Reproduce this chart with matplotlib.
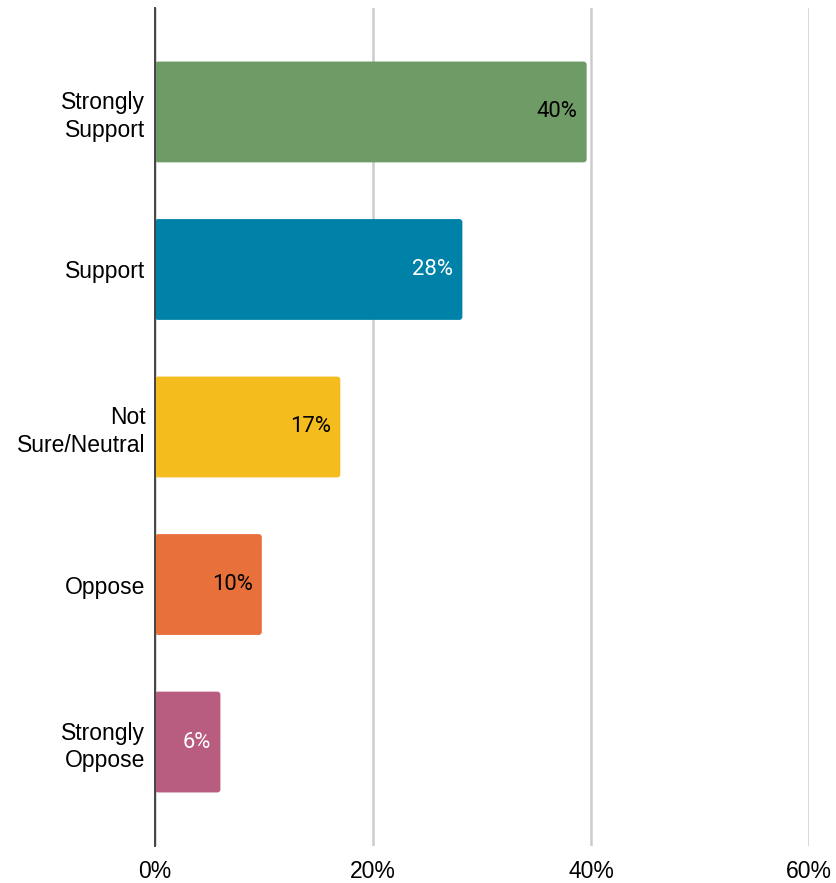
import matplotlib.pyplot as plt
from matplotlib import font_manager
from matplotlib.patches import FancyBboxPatch

# Survey responses
categories = ["Strongly\nSupport", "Support", "Not\nSure/Neutral", "Oppose", "Strongly\nOppose"]
values = [39.6, 28.2, 17.0, 9.8, 6.0]
value_labels = ["40%", "28%", "17%", "10%", "6%"]
colors = ["#6E9B66", "#0081A7", "#F4BC1C", "#E8703B", "#B85C80"]
label_colors = ["black", "white", "black", "black", "white"]
x_ticks = [0, 20, 40, 60]
x_tick_labels = ["0%", "20%", "40%", "60%"]

names = {f.name for f in font_manager.fontManager.ttflist}
tick_font = "Liberation Sans Narrow" if "Liberation Sans Narrow" in names else "Liberation Sans"

fig = plt.figure(figsize=(8.36, 8.83), dpi=100)
ax = fig.add_axes([155 / 836, 1 - 846 / 883, (809 - 155) / 836, (846 - 8) / 883])

y = list(range(len(categories)))
bars = ax.barh(y, values, height=0.64, color=colors, zorder=3)

# swap plain bars for slightly rounded ones
for bar in bars:
    bar.set_visible(False)
    ax.add_patch(FancyBboxPatch((bar.get_x(), bar.get_y()), bar.get_width(), bar.get_height(),
                                boxstyle="round,pad=0,rounding_size=0.28", mutation_aspect=0.07,
                                facecolor=bar.get_facecolor(), edgecolor="none", zorder=3))

for bar, txt, c in zip(bars, value_labels, label_colors):
    ax.annotate(txt, (bar.get_width(), bar.get_y() + bar.get_height() / 2),
                xytext=(-6.5, 0), textcoords="offset points", ha="right", va="center",
                fontsize=15.8, color=c, family="Roboto", zorder=4)

ax.set_xlim(0, 60)
ax.set_ylim(len(categories) - 0.34, -0.66)
ax.set_xticks(x_ticks)
ax.set_xticklabels(x_tick_labels, family=tick_font, fontsize=16.5)
ax.set_yticks(y)
ax.set_yticklabels(categories, family="Liberation Sans", fontsize=16.5, linespacing=1.25)
ax.tick_params(axis="both", length=0)
ax.tick_params(axis="y", pad=7)
ax.tick_params(axis="x", pad=10)

ax.xaxis.grid(True, color="#cccccc", linewidth=1.8, zorder=1)
for s in ["top", "right", "bottom"]:
    ax.spines[s].set_visible(False)
ax.spines["left"].set_color("#444444")
ax.spines["left"].set_linewidth(1.4)
ax.spines["left"].set_zorder(5)

fig.savefig("out.png", dpi=100)
